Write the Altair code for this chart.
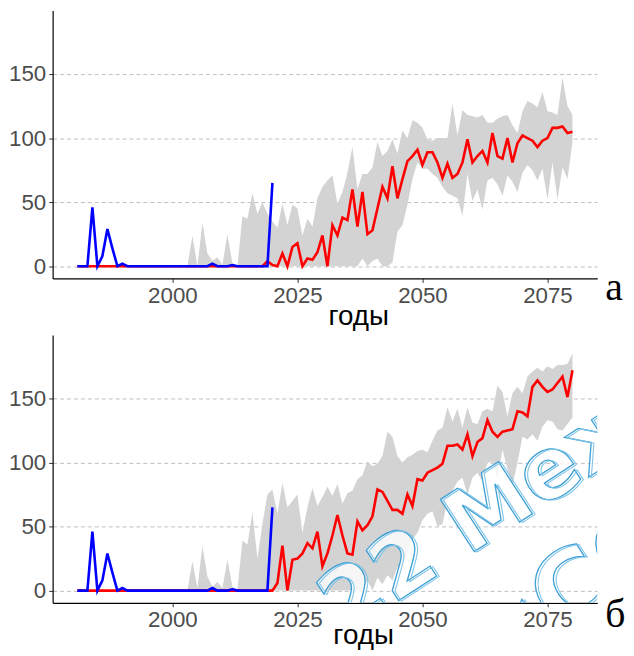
import altair as alt
import pandas as pd

# ---------------- data ----------------
years = list(range(1981, 2081))          # model years
band_years = list(range(2003, 2081))     # uncertainty band years
obs_years = list(range(1981, 2021))      # observed years

observed = [0, 0, 0, 46, 0, 8, 29, 14, 0, 2,
            0, 0, 0, 0, 0, 0, 0, 0, 0, 0,
            0, 0, 0, 0, 0, 0, 0, 2, 0, 0,
            0, 1, 0, 0, 0, 0, 0, 0, 0, 65]

# panel а
model_a = ([0] * 38 +
           [4, 1,
            0, 10, 0, 15, 18, 0, 6, 5, 11, 24,
            0, 32, 24, 38, 36, 60, 31, 58, 25, 28,
            45, 62, 53, 78, 53, 68, 82, 86, 91, 79,
            89, 89, 81, 69, 80, 69, 72, 81, 99, 81,
            86, 90, 81, 104, 86, 84, 100, 81, 96, 102,
            100, 98, 93, 98, 100, 108, 108, 109, 104, 105])
upper_a = [0, 24, 0, 34, 10, 4, 7, 1,
           25, 2, 0, 39, 37, 57, 41, 50, 41, 35,
           30, 49, 32, 48, 45, 24, 37, 31, 53, 62,
           67, 71, 49, 58, 73, 93, 60, 72, 72, 77,
           97, 86, 90, 99, 88, 106, 100, 114, 112, 108,
           99, 98, 100, 100, 100, 127, 102, 122, 118, 117,
           116, 118, 112, 112, 115, 117, 118, 110, 104, 121,
           129, 127, 124, 136, 121, 120, 118, 147, 125, 118]
lower_a = ([0] * 28 +
           [0, 0, 0, 0, 0, 0, 0, 6, 0, 4,
            6, 0, 0, 3, 27, 32, 48, 68, 81, 76,
            76, 72, 69, 62, 57, 55, 53, 39, 72, 51,
            60, 44, 67, 69, 64, 55, 71, 66, 58, 73,
            79, 75, 67, 76, 52, 81, 52, 77, 68, 97])

# panel б
model_b = ([0] * 40 +
           [6, 35, 0, 24, 25, 29, 37, 33, 46, 19,
            29, 43, 59, 43, 29, 28, 54, 47, 51, 58,
            79, 77, 70, 63, 63, 60, 75, 66, 87, 86,
            92, 94, 96, 99, 113, 113, 114, 110, 122, 105,
            116, 119, 133, 124, 120, 124, 125, 126, 140, 139,
            136, 159, 164, 159, 155, 157, 162, 167, 151, 172])
upper_b = [0, 23, 2, 35, 11, 3, 7, 2,
           24, 3, 1, 39, 36, 61, 25, 52, 75, 79,
           60, 84, 65, 70, 75, 45, 65, 80, 66, 73,
           81, 74, 83, 68, 76, 78, 87, 90, 101, 97,
           99, 105, 124, 120, 105, 100, 104, 106, 109, 110,
           108, 117, 125, 127, 143, 132, 142, 127, 143, 131,
           130, 140, 142, 140, 160, 155, 136, 154, 159, 154,
           167, 171, 174, 171, 175, 173, 176, 176, 177, 185]
lower_b = ([0] * 36 +
           [8, 0,
            10, 5, 12, 8, 18, 20, 30, 40, 45, 55,
            60, 62, 50, 52, 70, 78, 85, 88, 75, 88,
            92, 85, 100, 100, 88, 110, 95, 82, 100, 120,
            118, 122, 117, 128, 133, 132, 126, 125, 130, 135])

x_ticks = [2000, 2025, 2050, 2075]
y_ticks = [0, 50, 100, 150]
x_title = "годы"
panel_labels = ["а", "б"]
watermark_lines = ["22 Меж", "«СО"]

# ---------------- chart ----------------
FONT = "Liberation Sans"
xscale = alt.Scale(domain=[1976.05, 2084.95], nice=False, zero=False)
yscale = alt.Scale(domain=[-9.5, 199.5], nice=False, zero=False)


def make_axes(title_x, title_y):
    xaxis = alt.Axis(values=x_ticks, format="d", title=x_title,
                     titleFont=FONT, titleFontSize=28, titleFontWeight="normal",
                     titleColor="black", titleX=title_x, titleY=title_y,
                     titleBaseline="alphabetic", titleAlign="center",
                     labelFont=FONT, labelFontSize=22.5, labelColor="#4D4D4D",
                     labelPadding=2, domainColor="black", domainWidth=1.2,
                     tickColor="#333333", tickSize=4, grid=False)
    yaxis = alt.Axis(values=y_ticks, title=None, grid=True,
                     gridColor="#BEBEBE", gridDash=[4, 3], gridWidth=1,
                     labelFont=FONT, labelFontSize=22.5, labelColor="#4D4D4D",
                     labelPadding=3, domainColor="black", domainWidth=1.2,
                     tickColor="#333333", tickSize=4)
    return xaxis, yaxis


def panel(model, upper, lower, label, lab_xy, title_xy, height, watermark=False):
    xaxis, yaxis = make_axes(*title_xy)
    df_band = pd.DataFrame({"year": band_years, "lo": lower, "hi": upper})
    df_model = pd.DataFrame({"year": years, "value": model})
    df_obs = pd.DataFrame({"year": obs_years, "value": observed})
    x = alt.X("year:Q", scale=xscale, axis=xaxis)

    band = alt.Chart(df_band).mark_area(color="#D3D3D3", opacity=1).encode(
        x=x, y=alt.Y("lo:Q", scale=yscale, axis=yaxis), y2="hi:Q")
    red = alt.Chart(df_model).mark_line(color="#FF0000", strokeWidth=2.6).encode(
        x=x, y=alt.Y("value:Q", scale=yscale, axis=yaxis))
    blue = alt.Chart(df_obs).mark_line(color="#0000FF", strokeWidth=2.6).encode(
        x=x, y=alt.Y("value:Q", scale=yscale, axis=yaxis))
    lab = alt.Chart(pd.DataFrame({"t": [label]})).mark_text(
        font="Liberation Serif", fontSize=40, align="left",
        baseline="alphabetic", color="black").encode(
        x=alt.value(lab_xy[0]), y=alt.value(lab_xy[1]), text="t:N")
    layers = [band, red, blue, lab]
    if watermark:
        specs = [(watermark_lines[0], 293, 304, 86),
                 (watermark_lines[1], 455, 340, 100)]
        for txt, wx, wy, fs in specs:
            d = pd.DataFrame({"t": [txt]})
            layers.append(alt.Chart(d).mark_text(
                font="DejaVu Sans", fontWeight="bold", fontSize=fs, angle=327,
                align="left", baseline="alphabetic", fill="white",
                fillOpacity=0.8, stroke="#3FA0D5", strokeWidth=1.3,
                clip=True).encode(
                x=alt.value(wx), y=alt.value(wy), text="t:N"))
            layers.append(alt.Chart(d).mark_text(
                font="DejaVu Sans", fontWeight="bold", fontSize=fs, angle=327,
                align="left", baseline="alphabetic", fillOpacity=0,
                stroke="#7CC3E8", strokeWidth=1.0, dx=2, dy=2,
                clip=True).encode(
                x=alt.value(wx), y=alt.value(wy), text="t:N"))
    return alt.layer(*layers).properties(width=549, height=height)


top = panel(model_a, upper_a, lower_a, panel_labels[0], (557, 292), (308, 46), 270)
bottom = panel(model_b, upper_b, lower_b, panel_labels[1], (557, 294), (313, 41), 270,
               watermark=True)

chart = alt.vconcat(top, bottom, spacing=5).properties(padding=0).configure(
    font=FONT, view=alt.ViewConfig(strokeWidth=0, stroke="transparent"))

chart.save("out.html", embed_options={"renderer": "svg", "actions": False})
